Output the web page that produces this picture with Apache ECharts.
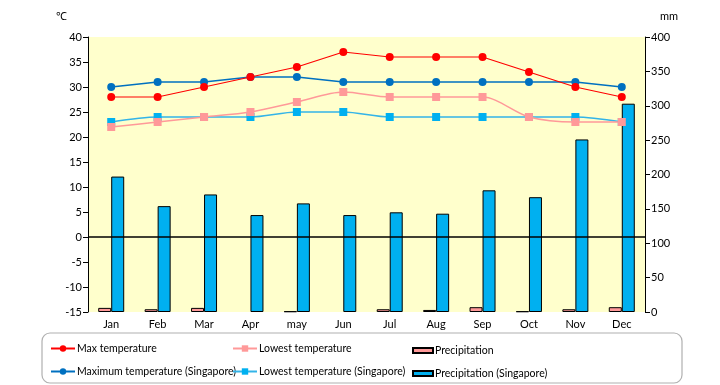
<!DOCTYPE html>
<html><head><meta charset="utf-8">
<script src="https://cdn.jsdelivr.net/npm/echarts@6/dist/echarts.min.js"></script>
<style>html,body{margin:0;padding:0;background:#fff}#c{width:720px;height:385px}</style>
</head><body><div id="c"></div>
<script>
var months = ['Jan','Feb','Mar','Apr','may','Jun','Jul','Aug','Sep','Oct','Nov','Dec'];
var maxTemp = [28,28,30,32,34,37,36,36,36,33,30,28];
var lowTemp = [22,23,24,25,27,29,28,28,28,24,23,23];
var precip = [6,4,6,0,1,0,4,3,7,1,4,7];
var maxTempSg = [30,31,31,32,32,31,31,31,31,31,31,30];
var lowTempSg = [23,24,24,24,25,25,24,24,24,24,24,23];
var precipSg = [197,154,171,141,158,141,145,143,177,167,251,303];
var tempTicks = {min:-15,max:40,interval:5};
var rainTicks = {min:0,max:400,interval:50};

var FONT = 'Lato, sans-serif';
var chart = echarts.init(document.getElementById('c'));
function noZero(arr){ return arr.map(function(v){ return v === 0 ? null : v; }); }
function legendAt(name, left, top, isBar){
  var l = {data:[name], left:left, top:top, orient:'horizontal', padding:0,
    itemWidth: isBar?20:24, itemHeight: isBar?5:8, itemGap:2, selectedMode:false,
    textStyle:{fontFamily:FONT,fontSize:10.5,color:'#000',padding:[0,0,0,-3]}};
  if (isBar) l.icon = 'rect';
  return l;
}
chart.setOption({
  animation:false,
  textStyle:{fontFamily:FONT},
  grid:{left:88,right:75,top:37,bottom:73,containLabel:false,outerBoundsMode:'none',
        show:true,backgroundColor:'#FFFFCC',borderWidth:0},
  graphic:[
    {type:'rect',shape:{x:42,y:333,width:640,height:50,r:8},style:{fill:'#fff',stroke:'#b0b0b0',lineWidth:1.2},z:-1},
    {type:'text',left:56,top:11,style:{text:'℃',font:'11px '+FONT,fill:'#000'}},
    {type:'text',left:660,top:11,style:{text:'mm',font:'11px '+FONT,fill:'#000'}}
  ],
  legend:[
    legendAt('Max temperature',50,343,false),
    legendAt('Maximum temperature (Singapore)',50,366,false),
    legendAt('Lowest temperature',232,343,false),
    legendAt('Lowest temperature (Singapore)',232,366,false),
    legendAt('Precipitation',412,345,true),
    legendAt('Precipitation (Singapore)',412,368,true)
  ],
  xAxis:{type:'category',data:months,position:'bottom',
    axisLine:{show:false,onZero:false},
    axisTick:{show:false},
    axisLabel:{color:'#000',fontSize:11,fontFamily:FONT,margin:7}},
  yAxis:[
    {type:'value',min:tempTicks.min,max:tempTicks.max,interval:tempTicks.interval,
     axisLine:{show:true,lineStyle:{color:'#000'}},axisTick:{show:true,length:5,lineStyle:{color:'#000'}},
     splitLine:{show:false},axisLabel:{color:'#000',fontSize:11,fontFamily:FONT,margin:6}},
    {type:'value',min:rainTicks.min,max:rainTicks.max,interval:rainTicks.interval,position:'right',
     axisLine:{show:true,lineStyle:{color:'#000'}},axisTick:{show:true,length:5,lineStyle:{color:'#000'}},
     splitLine:{show:false},axisLabel:{color:'#000',fontSize:11,fontFamily:FONT,margin:6}}
  ],
  series:[
    {name:'Precipitation',type:'bar',yAxisIndex:1,data:noZero(precip),barWidth:13,barGap:'0%',
     itemStyle:{color:'#FF9999',borderColor:'#000',borderWidth:1},z:1},
    {name:'Precipitation (Singapore)',type:'bar',yAxisIndex:1,data:noZero(precipSg),barWidth:13,barGap:'0%',
     itemStyle:{color:'#00B0F0',borderColor:'#000',borderWidth:1},z:1},
    {name:'Maximum temperature (Singapore)',type:'line',data:maxTempSg,symbol:'circle',symbolSize:8,
     lineStyle:{color:'#0070C0',width:1.5},itemStyle:{color:'#0070C0'},z:3},
    {name:'Lowest temperature (Singapore)',type:'line',data:lowTempSg,symbol:'rect',symbolSize:8,smooth:0.3,
     lineStyle:{color:'#33B4E8',width:1.5},itemStyle:{color:'#00B0F0'},z:3},
    {name:'Lowest temperature',type:'line',data:lowTemp,symbol:'rect',symbolSize:8,smooth:0.3,
     lineStyle:{color:'#FF9999',width:1.5},itemStyle:{color:'#FF9999'},z:4},
    {name:'Max temperature',type:'line',data:maxTemp,symbol:'circle',symbolSize:8,
     lineStyle:{color:'#FF0000',width:1.2},itemStyle:{color:'#FF0000'},z:5,
     markLine:{silent:true,symbol:['none','none'],label:{show:false},
       lineStyle:{color:'#000',width:1.5,type:'solid'},data:[{yAxis:0}]}}
  ]
});
</script></body></html>
